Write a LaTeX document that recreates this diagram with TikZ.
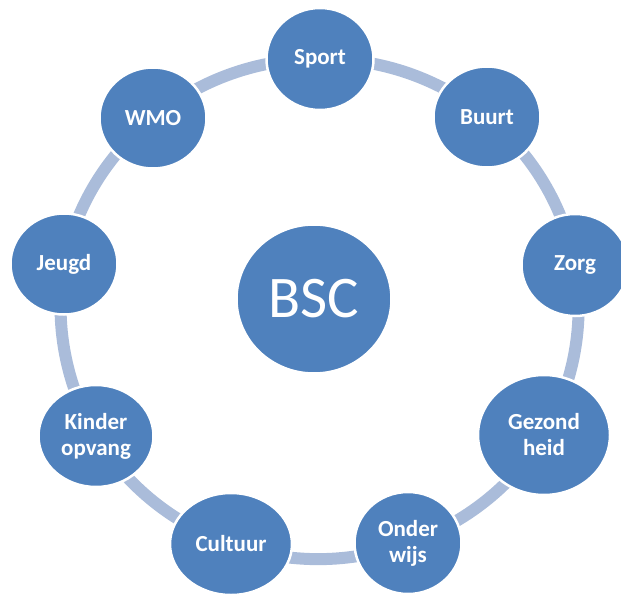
\documentclass[tikz,border=0pt]{standalone}
\usepackage{fontspec}
\setmainfont{Carlito}
\usetikzlibrary{shapes.geometric, backgrounds}
\definecolor{bsBlue}{HTML}{4F81BD}
\definecolor{bsRing}{HTML}{AABCDA}
\tikzset{
  topic/.style={
    ellipse, fill=bsBlue, draw=white, line width=2.5pt, inner sep=0pt,
    text=white, align=center, font=\fontsize{23}{26}\selectfont\bfseries
  },
  hub/.style={topic, font=\fontsize{59}{64}\selectfont},
  ring/.style={bsRing, line width=12pt, looseness=0.88}
}

\begin{document}
\begin{tikzpicture}[x=1pt, y=-1pt]
  \useasboundingbox (0,0) rectangle (621,594);
  \clip (0,0) rectangle (621,594);
  \node[hub, minimum width=155pt, minimum height=149pt] (bsc) at (314,299) {BSC};
  \foreach \name/\x/\y/\w/\h/\txt in {
    sport/320/59/107/102/Sport,
    buurt/487/117/107/101/Buurt,
    zorg/575/265/107/102/Zorg,
    gezond/544/435/132/120/{Gezond\\heid},
    onder/408/543/107/102/{Onder\\wijs},
    cultuur/231/544/122/102/Cultuur,
    kinder/96/436/115/102/{Kinder\\opvang},
    jeugd/64/264/107/101/Jeugd,
    wmo/153/118/107/101/WMO}{
    \node[topic, minimum width=\w pt, minimum height=\h pt] (\name) at (\x,\y) {\txt};
  }
  \begin{scope}[on background layer]
    \foreach \a/\b in {
      sport/buurt, buurt/zorg, zorg/gezond, gezond/onder, onder/cultuur,
      cultuur/kinder, kinder/jeugd, jeugd/wmo, wmo/sport}{
      \draw[ring] (\a.center) to[bend left=20] (\b.center);
    }
  \end{scope}
\end{tikzpicture}
\end{document}
